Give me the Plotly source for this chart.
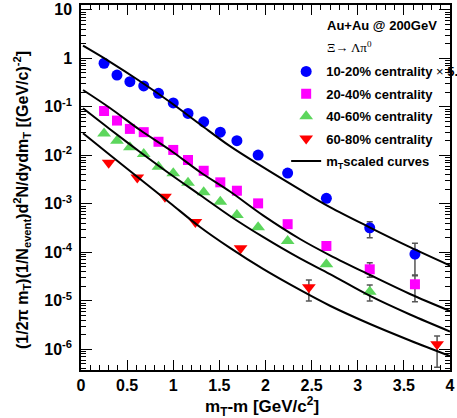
import plotly.graph_objects as go

# ---------------- data ----------------
x_main = [0.25, 0.39, 0.53, 0.68, 0.84, 1.00, 1.16, 1.33, 1.51, 1.69, 1.92, 2.24, 2.66, 3.13, 3.62]
y_1020 = [0.79, 0.45, 0.33, 0.27, 0.19, 0.12, 0.073, 0.049, 0.030, 0.020, 0.0101, 0.0043, 0.0013, 3.2e-4, 9.2e-5]
e_1020_up = [0, 0, 0, 0, 0, 0, 0, 0, 0, 0, 0, 0, 0, 1.08e-4, 6.1e-5]
e_1020_dn = [0, 0, 0, 0, 0, 0, 0, 0, 0, 0, 0, 0, 0, 1.2e-4, 5.9e-5]

y_2040 = [0.082, 0.052, 0.035, 0.030, 0.019, 0.0129, 0.0080, 0.0048, 0.00277, 0.00186, 0.00102, 3.8e-4, 1.35e-4, 4.46e-5, 2.19e-5]
e_2040_up = [0, 0, 0, 0, 0, 0, 0, 0, 0, 0, 0, 0, 0, 1.6e-5, 1.2e-5]
e_2040_dn = [0, 0, 0, 0, 0, 0, 0, 0, 0, 0, 0, 0, 0, 1.4e-5, 1.23e-5]

x_4060 = [0.25, 0.39, 0.53, 0.68, 0.84, 1.00, 1.16, 1.33, 1.51, 1.69, 1.92, 2.24, 2.66, 3.13]
y_4060 = [0.028, 0.020, 0.0146, 0.0106, 0.0058, 0.00425, 0.00272, 0.00173, 0.0011, 5.9e-4, 3.3e-4, 1.71e-4, 5.7e-5, 1.54e-5]
e_4060_up = [0, 0, 0, 0, 0, 0, 0, 0, 0, 0, 0, 0, 0, 5.8e-6]
e_4060_dn = [0, 0, 0, 0, 0, 0, 0, 0, 0, 0, 0, 0, 0, 5.5e-6]

x_6080 = [0.30, 0.61, 0.91, 1.24, 1.73, 2.47, 3.86]
y_6080 = [0.0070, 0.0035, 0.0014, 4.2e-4, 1.21e-4, 1.9e-5, 1.27e-6]
e_6080_up = [0, 0, 0, 0, 0, 0.78e-5, 0.61e-6]
e_6080_dn = [0, 0, 0, 0, 0, 0.91e-5, 0.845e-6]

# m_T scaled curves
x_curve = [0.022, 0.314, 0.640, 0.965, 1.290, 1.615, 1.973, 2.374, 2.699, 3.133, 3.566, 4.0]
curve_1020 = [1.82, 0.847, 0.336, 0.1256, 0.0436, 0.0154, 0.00569, 0.00196, 8.55e-4, 3.24e-4, 1.28e-4, 5.34e-5]
curve_2040 = [0.222, 0.0945, 0.0332, 0.01286, 0.00453, 0.00179, 5.77e-4, 1.88e-4, 8.67e-5, 3.40e-5, 1.38e-5, 6.16e-6]
curve_4060 = [0.0931, 0.0345, 0.0117, 0.00411, 0.00152, 5.6e-4, 2.07e-4, 7.45e-5, 3.55e-5, 1.26e-5, 5.22e-6, 2.33e-6]
curve_6080 = [0.0284, 0.01014, 0.00324, 0.00104, 3.32e-4, 1.23e-4, 4.53e-5, 1.67e-5, 7.9e-6, 3.32e-6, 1.52e-6, 7.27e-7]

x_ticks = [0, 0.5, 1, 1.5, 2, 2.5, 3, 3.5, 4]
x_tick_text = ["0", "0.5", "1", "1.5", "2", "2.5", "3", "3.5", "4"]
y_ticks = [1e-6, 1e-5, 1e-4, 1e-3, 1e-2, 1e-1, 1, 10]
y_tick_text = ["10<sup>-6</sup>", "10<sup>-5</sup>", "10<sup>-4</sup>", "10<sup>-3</sup>",
               "10<sup>-2</sup>", "10<sup>-1</sup>", "1", "10"]

FONT = "Liberation Sans"
ERRC = "#555555"

fig = go.Figure()

def err(up, dn):
    return dict(type="data", symmetric=False, array=up, arrayminus=dn,
                color=ERRC, thickness=1.5, width=3)

fig.add_trace(go.Scatter(
    x=x_main, y=y_1020, mode="markers", name="<b>10-20% centrality</b> × <b>5.0</b>",
    legendgroup="a", marker=dict(symbol="circle", size=11, color="#0000ff"),
    error_y=err(e_1020_up, e_1020_dn)))
fig.add_trace(go.Scatter(
    x=x_main, y=y_2040, mode="markers", name="<b>20-40% centrality</b>",
    legendgroup="b", marker=dict(symbol="square", size=10, color="#ff00ff"),
    error_y=err(e_2040_up, e_2040_dn)))
fig.add_trace(go.Scatter(
    x=x_4060, y=y_4060, mode="markers", name="<b>40-60% centrality</b>",
    legendgroup="c", marker=dict(symbol="triangle-up", size=12, color="#5cd65c"),
    error_y=err(e_4060_up, e_4060_dn)))
fig.add_trace(go.Scatter(
    x=x_6080, y=y_6080, mode="markers", name="<b>60-80% centrality</b>",
    legendgroup="d", marker=dict(symbol="triangle-down", size=12, color="#ff0000"),
    error_y=err(e_6080_up, e_6080_dn)))

for i, cy in enumerate([curve_1020, curve_2040, curve_4060, curve_6080]):
    fig.add_trace(go.Scatter(
        x=x_curve, y=cy, mode="lines", line=dict(color="black", width=2, shape="spline", smoothing=1.0),
        name="<b>m<sub>T</sub>scaled curves</b>", legendgroup="e",
        showlegend=(i == 0), hoverinfo="skip"))

minor_y = [m * 10 ** e for e in range(-7, 2) for m in range(2, 10)]

fig.update_layout(
    width=457, height=418,
    margin=dict(l=81, r=7, t=5, b=48, autoexpand=False),
    paper_bgcolor="white", plot_bgcolor="white",
    font=dict(family=FONT, color="black"),
    showlegend=True,
    legend=dict(x=0.556, y=0.859, xanchor="left", yanchor="top",
                bgcolor="rgba(0,0,0,0)", borderwidth=0,
                font=dict(family=FONT, size=13, color="black"),
                traceorder="grouped", tracegroupgap=2.5, itemwidth=30),
    xaxis=dict(range=[0, 4], showgrid=False, zeroline=False, automargin=False,
               showline=True, linecolor="black", linewidth=1.5, mirror="ticks",
               ticks="inside", ticklen=10, tickwidth=1.2, tickcolor="black",
               tickvals=x_ticks, ticktext=x_tick_text,
               tickfont=dict(family=FONT, size=16, color="black", weight="bold"),
               minor=dict(ticks="inside", ticklen=5, dtick=0.1, tickcolor="black", tickwidth=1)),
    yaxis=dict(type="log", range=[-6.427, 1.099], showgrid=False, zeroline=False, automargin=False,
               showline=True, linecolor="black", linewidth=1.5, mirror="ticks",
               ticks="inside", ticklen=11, tickwidth=1.2, tickcolor="black",
               tickvals=y_ticks, ticktext=y_tick_text,
               tickfont=dict(family=FONT, size=16, color="black", weight="bold"),
               ticklabelstandoff=4,
               minor=dict(ticks="inside", ticklen=5, tickvals=minor_y, tickcolor="black", tickwidth=1)),
)

fig.add_annotation(text="<b>m<sub>T</sub>-m [GeV/c<sup>2</sup>]</b>", xref="paper", yref="paper",
                   x=(262 - 81) / 369, y=(370 - 407) / 365, showarrow=False,
                   font=dict(family=FONT, size=17, color="black"), xanchor="center", yanchor="middle")
fig.add_annotation(text="<b>(1/2π m<sub>T</sub>)(1/N<sub>event</sub>)d<sup>2</sup>N/dydm<sub>T</sub> [(GeV/c)<sup>-2</sup>]</b>",
                   xref="paper", yref="paper", x=(22 - 81) / 369, y=(370 - 200) / 365,
                   textangle=-90, showarrow=False,
                   font=dict(family=FONT, size=16, color="black"), xanchor="center", yanchor="middle")
fig.add_annotation(text="<b>Au+Au @ 200GeV</b>", xref="paper", yref="paper",
                   x=(325 - 81) / 369, y=(370 - 25) / 365, showarrow=False, xanchor="left", yanchor="middle",
                   font=dict(family=FONT, size=13, color="black"))
fig.add_annotation(text="Ξ→ Λπ<sup>0</sup>", xref="paper", yref="paper",
                   x=(325 - 81) / 369, y=(370 - 47) / 365, showarrow=False, xanchor="left", yanchor="middle",
                   font=dict(family="Liberation Serif", size=13, color="black"))

fig.write_html("out.html", config={"displayModeBar": False},
               post_script="document.body.style.margin='0';document.body.style.overflow='hidden';")
